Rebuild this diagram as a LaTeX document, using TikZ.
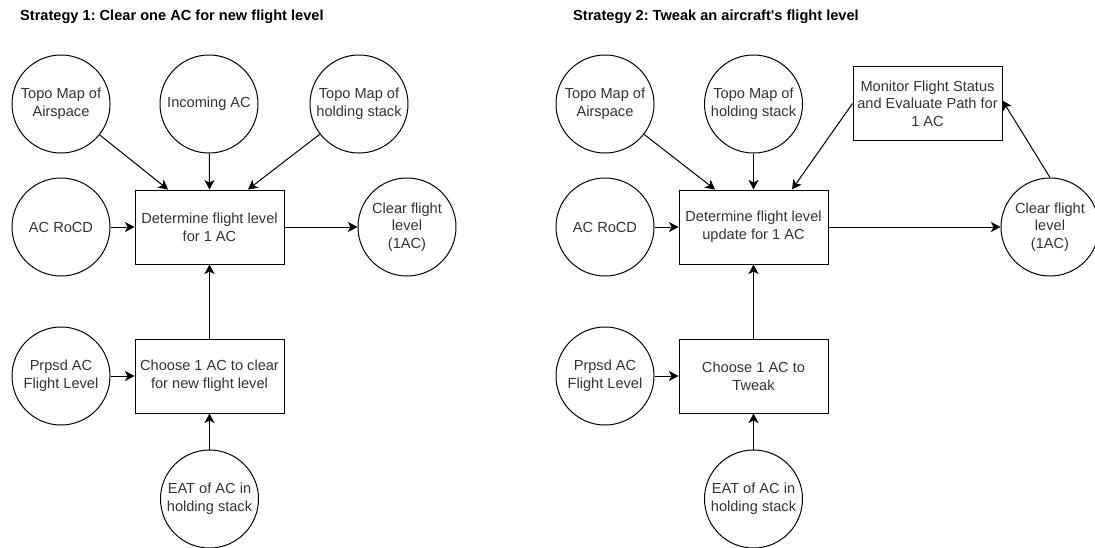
\documentclass[tikz,border=0pt]{standalone}
\usepackage{fontspec}
\setmainfont{Liberation Sans}
\usetikzlibrary{arrows.meta}
\definecolor{txt}{HTML}{333333}
\frenchspacing
\begin{document}
\begin{tikzpicture}[x=1pt,y=-1pt,
  every node/.style={font=\fontsize{14.6}{17.6}\selectfont, text=txt, align=center},
  blob/.style={circle, draw=black, line width=1pt, minimum size=98pt, inner sep=0pt},
  task/.style={rectangle, draw=black, line width=1pt, minimum width=149pt, minimum height=74pt, inner sep=0pt},
  heading/.style={font=\fontsize{14.6}{17.6}\selectfont\bfseries, text=black, anchor=west, inner sep=0pt},
  flow/.style={draw=black, line width=1pt, -{Stealth[length=9.5pt,width=10pt,inset=2.5pt]}}
]
\useasboundingbox (0,0) rectangle (1095,547);

% ---------- Strategy 1 ----------
\node[heading] (h1) at (20,17) {Strategy 1: Clear one AC for new flight level};

\node[blob] (air1)  at (61,104)  {Topo Map of\\Airspace};
\node[blob] (inc1)  at (209,104) {Incoming AC};
\node[blob] (hold1) at (359,104) {Topo Map of\\holding stack};
\node[blob] (rocd1) at (61,227)  {AC RoCD};
\node[task] (det1)  at (209.5,227) {Determine flight level\\for 1 AC};
\node[blob] (clr1)  at (407,227) {Clear flight\\level\\(1AC)};
\node[blob] (prp1)  at (61,376)  {Prpsd AC\\Flight Level};
\node[task] (cho1)  at (209.5,376) {Choose 1 AC to clear\\for new flight level};
\node[blob] (eat1)  at (209.5,499) {EAT of AC in\\holding stack};

\draw[flow] (air1) -- ([xshift=-41.5pt]det1.north);
\draw[flow] (inc1) -- (det1.north);
\draw[flow] (hold1) -- ([xshift=38.5pt]det1.north);
\draw[flow] (rocd1) -- (det1);
\draw[flow] (det1) -- (clr1);
\draw[flow] (cho1) -- (det1);
\draw[flow] (prp1) -- (cho1);
\draw[flow] (eat1) -- (cho1);

% ---------- Strategy 2 ----------
\node[heading] (h2) at (573,17) {Strategy 2: Tweak an aircraft\textquotesingle s flight level};

\node[blob] (air2)  at (605,104)   {Topo Map of\\Airspace};
\node[blob] (hold2) at (753.5,104) {Topo Map of\\holding stack};
\node[task] (mon2)  at (927.5,103.5) {Monitor Flight Status\\and Evaluate Path for\\1 AC};
\node[blob] (rocd2) at (605,227)   {AC RoCD};
\node[task] (det2)  at (753.5,227) {Determine flight level\\update for 1 AC};
\node[blob] (clr2)  at (1050,227)  {Clear flight\\level\\(1AC)};
\node[blob] (prp2)  at (605,376)   {Prpsd AC\\Flight Level};
\node[task] (cho2)  at (753.5,376) {Choose 1 AC to\\Tweak};
\node[blob] (eat2)  at (753.5,499) {EAT of AC in\\holding stack};

\draw[flow] (air2) -- ([xshift=-38.5pt]det2.north);
\draw[flow] (hold2) -- (det2.north);
\draw[flow] (mon2.west) -- ([xshift=38.5pt]det2.north);
\draw[flow] (rocd2) -- (det2);
\draw[flow] (det2) -- (clr2);
\draw[flow] (clr2.north) -- ([yshift=3pt]mon2.east);
\draw[flow] (cho2) -- (det2);
\draw[flow] (prp2) -- (cho2);
\draw[flow] (eat2) -- (cho2);
\end{tikzpicture}
\end{document}
